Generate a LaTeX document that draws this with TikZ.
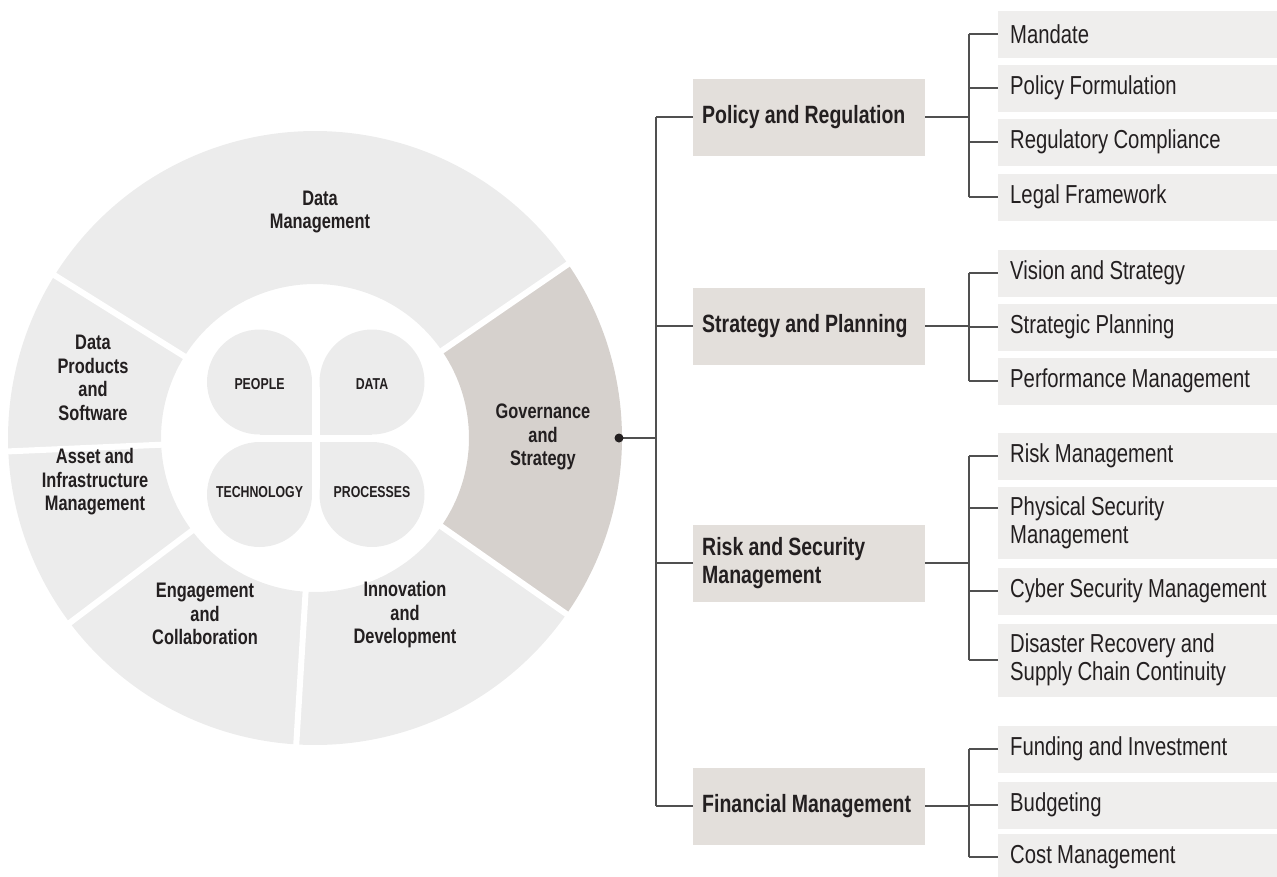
\documentclass[tikz,border=0pt]{standalone}
\usepackage{fontspec}
\setmainfont{Liberation Sans}[FakeStretch=0.78,WordSpace=0.95]
\usetikzlibrary{positioning,calc}

\definecolor{ring}{RGB}{236,236,236}
\definecolor{govern}{RGB}{214,209,205}
\definecolor{topbox}{RGB}{227,223,219}
\definecolor{leafbox}{RGB}{239,238,237}
\definecolor{ink}{RGB}{35,31,32}
\definecolor{wire}{RGB}{80,80,80}

\tikzset{
  seglabel/.style={font=\bfseries\fontsize{21}{23.5}\selectfont,align=flush center,text=ink},
  petallabel/.style={font=\bfseries\fontsize{15.8}{18}\selectfont,text=ink},
  topic/.style={fill=topbox,anchor=west,minimum height=77pt,text width=214pt,
    inner xsep=9pt,align=flush left,text=ink,font=\bfseries\fontsize{25}{28.5}\selectfont},
  leaf/.style={fill=leafbox,anchor=west,minimum height=47pt,text width=267pt,
    inner xsep=12pt,align=flush left,text=ink,font=\fontsize{26}{28.5}\selectfont},
  wire/.style={draw=wire,line width=1.5pt},
}

\begin{document}
\begin{tikzpicture}[x=1pt,y=1pt]
  \useasboundingbox (0,0) rectangle (1277,-876);

  % ring of six sectors
  \coordinate (C) at (315,-438);
  \foreach \a/\b/\col in {34.5/148/ring,148/182.5/ring,182.5/217/ring,217/266.5/ring,
                          266.5/325/ring,-35/34.5/govern}
    \fill[\col] ([shift={(C)}]\a:307) arc[start angle=\a,end angle=\b,radius=307]
      -- ([shift={(C)}]\b:154) arc[start angle=\b,end angle=\a,radius=154] -- cycle;
  \foreach \a in {34.5,148,182.5,217,266.5,325}
    \draw[white,line width=6pt] ([shift={(C)}]\a:150) -- ([shift={(C)}]\a:312);

  \node[seglabel] (datamgmt) at (320,-212) {Data\\Management};
  \node[seglabel] (products) at (93,-378) {Data\\Products\\and\\Software};
  \node[seglabel] (asset)    at (95,-482) {Asset and\\Infrastructure\\Management};
  \node[seglabel] (engage)   at (205,-614) {Engagement\\and\\Collaboration};
  \node[seglabel] (innov)    at (405,-615) {Innovation\\and\\Development};
  \node[seglabel] (govern)   at (543,-437) {Governance\\and\\Strategy};

  % four petals in the middle
  \foreach \px/\py/\ix/\iy in {259.5/-382/312/-434.5,372/-382/319.5/-434.5,
                               259.5/-494.5/312/-442,372/-494.5/319.5/-442}{
    \fill[ring] (\px,\py) circle[radius=52.5];
    \fill[ring] (\px,\py) rectangle (\ix,\iy);
  }
  \node[petallabel] (people)  at (259.5,-384) {PEOPLE};
  \node[petallabel] (data)    at (372,-384)   {DATA};
  \node[petallabel] (tech)    at (259.5,-492) {TECHNOLOGY};
  \node[petallabel] (process) at (372,-492)   {PROCESSES};

  % second level
  \node[topic] (policy)   at (693,-117) {Policy and Regulation};
  \node[topic] (strategy) at (693,-326) {Strategy and Planning};
  \node[topic] (risk)     at (693,-563) {Risk and Security\\Management};
  \node[topic] (finance)  at (693,-806) {Financial Management};

  % third level
  \node[leaf] (mandate)  at (998,-34)  {Mandate};
  \node[leaf] (formul)   at (998,-88)  {Policy Formulation};
  \node[leaf] (comply)   at (998,-142) {Regulatory Compliance};
  \node[leaf] (legal)    at (998,-197) {Legal Framework};
  \node[leaf] (vision)   at (998,-273) {Vision and Strategy};
  \node[leaf] (planning) at (998,-327) {Strategic Planning};
  \node[leaf] (perform)  at (998,-381) {Performance Management};
  \node[leaf] (riskmgmt) at (998,-456) {Risk Management};
  \node[leaf,minimum height=72pt] (physical) at (998,-523) {Physical Security\\Management};
  \node[leaf] (cyber)    at (998,-591) {Cyber Security Management};
  \node[leaf,minimum height=73pt] (disaster) at (998,-660) {Disaster Recovery and\\Supply Chain Continuity};
  \node[leaf] (funding)  at (998,-749) {Funding and Investment};
  \node[leaf] (budget)   at (998,-805) {Budgeting};
  \node[leaf] (costmgmt) at (998,-857) {Cost Management};
  \coordinate (physical-in) at ([yshift=15pt]physical.west);

  % connectors
  \coordinate (hub) at (619,-438);
  \coordinate (trunk) at (656,0);
  \coordinate (fork) at (969,0);
  \draw[wire] (hub) -- (hub -| trunk);
  \draw[wire] (policy.west -| trunk) -- (finance.west -| trunk);
  \foreach \t in {policy,strategy,risk,finance}
    \draw[wire] (\t.west -| trunk) -- (\t.west);
  \fill[ink] (hub) circle[radius=4.5];

  \foreach \t/\kids in {policy/{mandate.west,formul.west,comply.west,legal.west},
      strategy/{vision.west,planning.west,perform.west},
      risk/{riskmgmt.west,physical-in,cyber.west,disaster.west},
      finance/{funding.west,budget.west,costmgmt.west}}{
    \draw[wire] (\t.east) -- (\t.east -| fork);
    \foreach \k [count=\i] in \kids {
      \draw[wire] (\k -| fork) -- (\k);
      \ifnum\i>1 \draw[wire] (\k -| fork) -- (\prev -| fork); \fi
      \xdef\prev{\k}
    }
  }
\end{tikzpicture}
\end{document}
